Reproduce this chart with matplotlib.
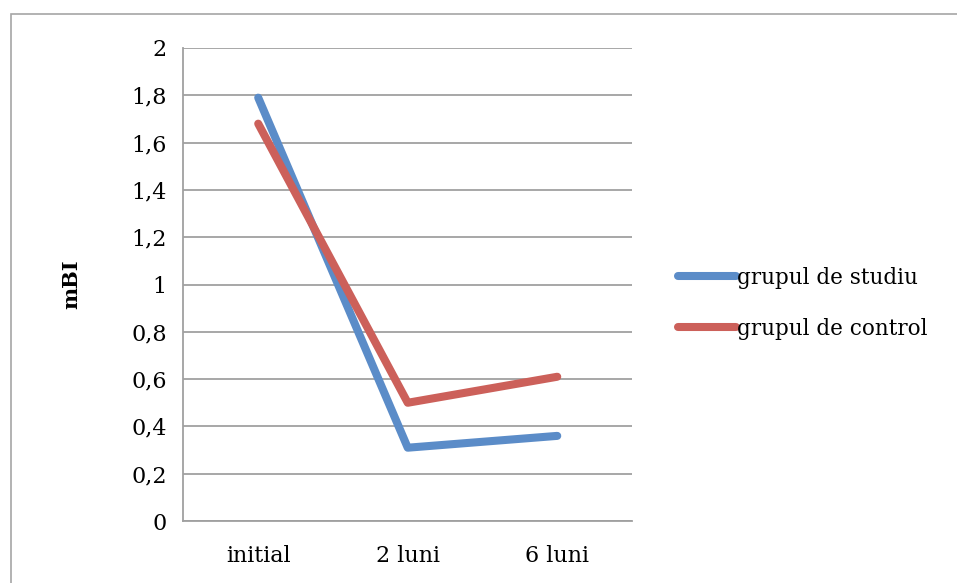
import matplotlib

matplotlib.use("Agg")
import matplotlib.pyplot as plt  # noqa: E402
from matplotlib.patches import Rectangle  # noqa: E402

categories = ["initial", "2 luni", "6 luni"]
studiu = [1.79, 0.31, 0.36]
control = [1.68, 0.50, 0.61]
yticks = [0, 0.2, 0.4, 0.6, 0.8, 1.0, 1.2, 1.4, 1.6, 1.8, 2.0]

plt.rcParams["font.family"] = ["DejaVu Serif"]

fig = plt.figure(figsize=(9.57, 5.83), dpi=100)
ax = fig.add_axes([0.1917, 0.1063, 0.4687, 0.8114])

# chart frame around the whole figure (open on the right and bottom)
fig.patches.append(Rectangle((10.5 / 957, -0.1), 2, 1 - 13.5 / 583 + 0.1,
                             transform=fig.transFigure, fill=False,
                             edgecolor="#a6a6a6", linewidth=1.2))

x = range(len(categories))
ax.plot(x, studiu, color="#5B8CC8", linewidth=5.8, solid_capstyle="round",
        label="grupul de studiu")
ax.plot(x, control, color="#CC605A", linewidth=5.8, solid_capstyle="round",
        label="grupul de control")

ax.set_xlim(-0.5, 2.5)
ax.set_ylim(0, 2)
ax.set_yticks(yticks)
ax.set_yticklabels([f"{v:g}".replace(".", ",") for v in yticks])
ax.set_xticks(list(x))
ax.set_xticklabels(categories)
ax.tick_params(length=0, labelsize=16, pad=12)
ax.tick_params(axis="x", pad=17)
ax.yaxis.grid(True, color="#a0a0a0", linewidth=1.3)
ax.set_axisbelow(True)
for s in ("top", "right"):
    ax.spines[s].set_visible(False)
for s in ("left", "bottom"):
    ax.spines[s].set_color("#a0a0a0")
    ax.spines[s].set_linewidth(1.3)
ax.set_ylabel("mBI", fontsize=15, fontweight="bold", labelpad=36)

fig.legend(loc="center left", bbox_to_anchor=(0.688, 0.48), frameon=False,
           fontsize=15.5, handlelength=2.7, handletextpad=0.05, labelspacing=1.35)

fig.savefig("out.png", dpi=100)
